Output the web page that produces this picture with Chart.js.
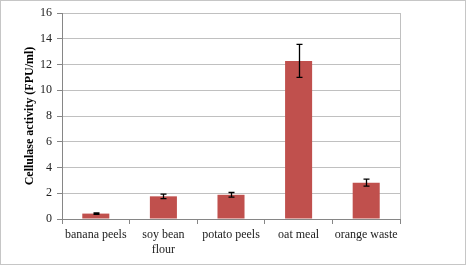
<!DOCTYPE html>
<html>
<head>
<meta charset="utf-8">
<script src="https://cdn.jsdelivr.net/npm/chart.js@4.4.0/dist/chart.umd.min.js"></script>
<style>
  body { margin: 0; background: #fff; }
  #wrap { position: relative; width: 466px; height: 265px; box-sizing: border-box; border: 1px solid #c6c6c6; }
  canvas { position: absolute; left: -1px; top: -1px; }
</style>
</head>
<body>
<div id="wrap"><canvas id="myChart" width="466" height="265"></canvas></div>
<script>
// dữ liệu
const categories = ['banana peels', ['soy bean', 'flour'], 'potato peels', 'oat meal', 'orange waste'];
const activity = [0.42, 1.76, 1.88, 12.28, 2.82];
const errors = [0.05, 0.17, 0.18, 1.28, 0.27];
const yTicks = [0, 2, 4, 6, 8, 10, 12, 14, 16];

const serif = '"Liberation Serif", "Times New Roman", serif';

// vẽ thanh sai số + viền phải của vùng vẽ
const errorBars = {
  id: 'errorBars',
  afterDatasetsDraw(chart) {
    const ctx = chart.ctx;
    const y = chart.scales.y;
    const area = chart.chartArea;
    ctx.save();
    ctx.strokeStyle = '#c0c0c0';
    ctx.lineWidth = 1;
    ctx.beginPath();
    ctx.moveTo(Math.round(area.right) + 0.5, area.top);
    ctx.lineTo(Math.round(area.right) + 0.5, area.bottom);
    ctx.stroke();

    ctx.strokeStyle = '#000';
    ctx.lineWidth = 1.3;
    chart.getDatasetMeta(0).data.forEach((bar, i) => {
      const x = Math.round(bar.x) + 0.5;
      const top = y.getPixelForValue(activity[i] + errors[i]);
      const bot = y.getPixelForValue(activity[i] - errors[i]);
      ctx.beginPath();
      ctx.moveTo(x, top); ctx.lineTo(x, bot);
      ctx.moveTo(x - 3, top); ctx.lineTo(x + 3, top);
      ctx.moveTo(x - 3, bot); ctx.lineTo(x + 3, bot);
      ctx.stroke();
    });
    ctx.restore();
  }
};

new Chart(document.getElementById('myChart'), {
  type: 'bar',
  data: {
    labels: categories,
    datasets: [{
      data: activity,
      backgroundColor: '#c0504d',
      categoryPercentage: 1,
      barPercentage: 0.4
    }]
  },
  options: {
    responsive: false,
    animation: false,
    layout: { padding: { left: 23, top: 13, right: 66, bottom: 0 } },
    plugins: { legend: { display: false }, tooltip: { enabled: false } },
    scales: {
      x: {
        grid: { offset: true, drawOnChartArea: false, tickLength: 5, color: '#868686' },
        border: { color: '#868686' },
        ticks: { color: '#222', font: { family: serif, size: 12 }, padding: 4, maxRotation: 0 },
        afterFit: (s) => { s.height = 46; }
      },
      y: {
        min: 0, max: 16,
        afterBuildTicks: (s) => { s.ticks = yTicks.map(v => ({ value: v })); },
        grid: { color: '#c0c0c0', tickLength: 5, tickColor: '#868686' },
        border: { color: '#868686' },
        ticks: { color: '#222', font: { family: serif, size: 12 }, padding: 5 },
        title: { display: true, text: 'Cellulase activity (FPU/ml)', color: '#000', font: { family: serif, size: 12, weight: 'bold' }, padding: { top: 0, bottom: 4 } },
        afterFit: (s) => { s.width = 39; }
      }
    }
  },
  plugins: [errorBars]
});
</script>
</body>
</html>
